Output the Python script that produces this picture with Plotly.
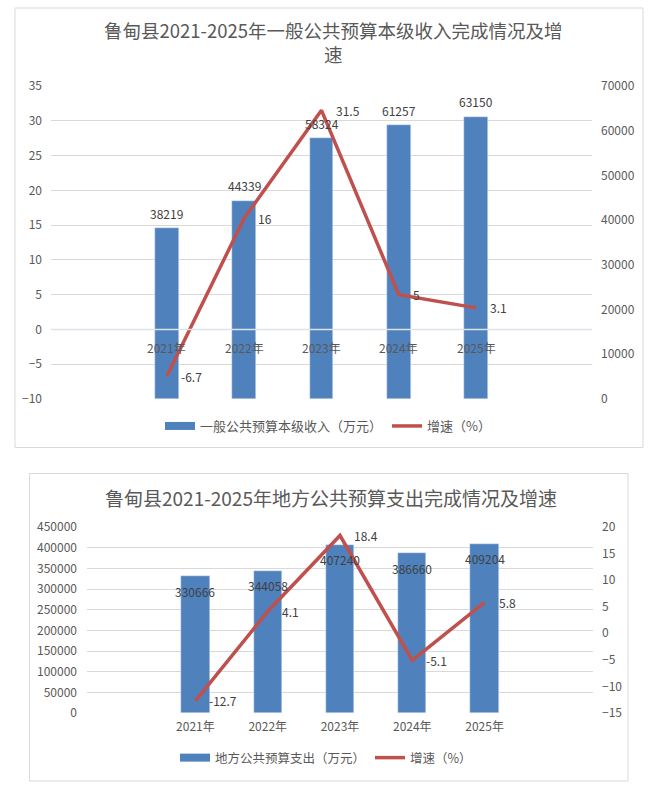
import plotly.graph_objects as go

W, H = 662, 788

# --data
years = ["2021年", "2022年", "2023年", "2024年", "2025年"]
revenue = [38219, 44339, 58324, 61257, 63150]  # 一般公共预算本级收入, 万元
revenue_growth = [-6.7, 16, 31.5, 5, 3.1]  # 增速, %
spending = [330666, 344058, 407240, 386660, 409204]  # 地方公共预算支出, 万元
spending_growth = [-12.7, 4.1, 18.4, -5.1, 5.8]  # 增速, %

BLUE = "#4f81bd"
RED = "#c0504d"
GRID = "#d9d9d9"
GREY = "#595959"
DARK = "#404040"
FONT = "Noto Sans CJK SC"


def fx(px):
    # pixel -> paper fraction (x)
    return px / W


def fy(py):
    # pixel -> paper fraction (y, measured from top)
    return 1 - py / H


fig = go.Figure()

# --top chart: bars on the right axis, growth line on the left axis
fig.add_trace(go.Bar(x=years, y=revenue, name="一般公共预算本级收入（万元）", marker_color=BLUE, width=0.31, xaxis="x", yaxis="y", showlegend=False))  # fmt: off
fig.add_trace(go.Scatter(x=[years[0]], y=[None], name="一般公共预算本级收入（万元）", mode="lines", line=dict(color=BLUE, width=8), xaxis="x", yaxis="y", legend="legend", hoverinfo="skip"))  # fmt: off
fig.add_trace(go.Scatter(x=years, y=revenue_growth, name="增速（%）", mode="lines", line=dict(color=RED, width=3.5), xaxis="x", yaxis="y3", legend="legend"))  # fmt: off

# --bottom chart: bars on the left axis, growth line on the right axis
fig.add_trace(go.Bar(x=years, y=spending, name="地方公共预算支出（万元）", marker_color=BLUE, width=0.39, xaxis="x2", yaxis="y2", showlegend=False))  # fmt: off
fig.add_trace(go.Scatter(x=[years[0]], y=[None], name="地方公共预算支出（万元）", mode="lines", line=dict(color=BLUE, width=8), xaxis="x2", yaxis="y2", legend="legend2", hoverinfo="skip"))  # fmt: off
fig.add_trace(go.Scatter(x=years, y=spending_growth, name="增速（%）", mode="lines", line=dict(color=RED, width=3.5), xaxis="x2", yaxis="y4", legend="legend2"))  # fmt: off

tick_font = dict(family=FONT, size=12, color=GREY)
label_font = dict(family=FONT, size=12, color=DARK)

annotations = []

# titles
annotations.append(dict(text="鲁甸县2021-2025年一般公共预算本级收入完成情况及增<br>速", x=fx(333), y=fy(42), xref="paper", yref="paper", xanchor="center", yanchor="middle", showarrow=False, font=dict(family=FONT, size=18.5, color=GREY)))  # fmt: off
annotations.append(dict(text="鲁甸县2021-2025年地方公共预算支出完成情况及增速", x=fx(331), y=fy(497), xref="paper", yref="paper", xanchor="center", yanchor="middle", showarrow=False, font=dict(family=FONT, size=19, color=GREY)))  # fmt: off

# top chart labels
for yr, v in zip(years, revenue):
    annotations.append(dict(text=str(v), x=yr, y=v, xref="x", yref="y", yshift=15, showarrow=False, font=label_font))  # fmt: off
for yr, g in zip(years, revenue_growth):
    annotations.append(dict(text=f"{g:g}", x=yr, y=g, xref="x", yref="y3", xanchor="left", xshift=12, showarrow=False, font=label_font))  # fmt: off
# category labels sit on the 0 line of the growth axis
for yr in years:
    annotations.append(dict(text=yr, x=yr, y=0, xref="x", yref="y3", yshift=-18, showarrow=False, font=tick_font))  # fmt: off

# bottom chart labels
for yr, v in zip(years, spending):
    annotations.append(dict(text=str(v), x=yr, y=v, xref="x2", yref="y2", yshift=-15, showarrow=False, font=label_font))  # fmt: off
for yr, g in zip(years, spending_growth):
    annotations.append(dict(text=f"{g:g}", x=yr, y=g, xref="x2", yref="y4", xanchor="left", xshift=12, showarrow=False, font=label_font))  # fmt: off

shapes = [
    # chart frames
    dict(type="rect", xref="paper", yref="paper", x0=fx(15), x1=fx(643), y0=fy(447.5), y1=fy(8), line=dict(color=GRID, width=1)),  # fmt: off
    dict(type="rect", xref="paper", yref="paper", x0=fx(29.5), x1=fx(628), y0=fy(781), y1=fy(473.5), line=dict(color=GRID, width=1)),  # fmt: off
    # 0 line of the growth axis drawn over the bars
    dict(type="line", xref="x domain", yref="y3", x0=0, x1=1, y0=0, y1=0, layer="above", line=dict(color="#dde3ec", width=1.5)),  # fmt: off
]

axis_common = dict(zeroline=False, showline=False, ticks="", tickfont=tick_font, tickformat="d")

fig.update_layout(
    width=W,
    height=H,
    margin=dict(l=0, r=0, t=0, b=0, autoexpand=False),
    paper_bgcolor="white",
    plot_bgcolor="white",
    font=dict(family=FONT, color=GREY),
    xaxis=dict(domain=[fx(51), fx(592)], anchor="y", type="category", range=[-1.5, 5.5], showticklabels=False, showgrid=False, **axis_common),  # fmt: off
    yaxis=dict(domain=[fy(399), fy(86)], anchor="x", side="right", range=[0, 70000], dtick=10000, showgrid=False, ticklabelstandoff=8, **axis_common),  # fmt: off
    yaxis3=dict(overlaying="y", anchor="x", side="left", range=[-10, 35], dtick=5, showgrid=True, gridcolor=GRID, ticklabelstandoff=8, **axis_common),  # fmt: off
    xaxis2=dict(domain=[fx(87), fx(593)], anchor="y2", type="category", range=[-1.5, 5.5], showgrid=False, ticklabelstandoff=5, **axis_common),  # fmt: off
    yaxis2=dict(domain=[fy(713), fy(527)], anchor="x2", side="left", range=[0, 450000], dtick=50000, showgrid=True, gridcolor=GRID, ticklabelstandoff=9, **axis_common),  # fmt: off
    yaxis4=dict(overlaying="y2", anchor="x2", side="right", range=[-15, 20], dtick=5, showgrid=False, ticklabelstandoff=8, **axis_common),  # fmt: off
    legend=dict(orientation="h", x=fx(328), xanchor="center", y=fy(426), yanchor="middle", font=dict(family=FONT, size=13, color=GREY), bgcolor="rgba(0,0,0,0)", itemwidth=30),  # fmt: off
    legend2=dict(orientation="h", x=fx(326), xanchor="center", y=fy(758), yanchor="middle", font=dict(family=FONT, size=12.5, color=GREY), bgcolor="rgba(0,0,0,0)", itemwidth=30),  # fmt: off
    annotations=annotations,
    shapes=shapes,
    bargap=0,
)

# drop the default page margin so the 662x788 figure fills the window
fig.write_html("out.html", config={"displayModeBar": False}, post_script="document.body.style.margin='0';document.body.style.overflow='hidden';")  # fmt: off
